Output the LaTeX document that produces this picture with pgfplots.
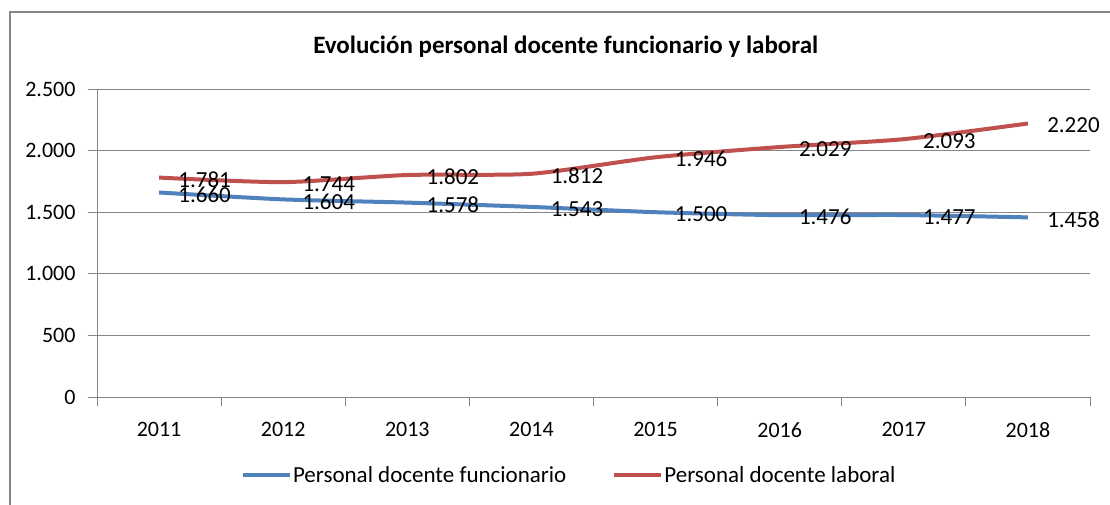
\documentclass[border=0pt]{standalone}
\usepackage{fontspec}
\setmainfont{Carlito}
\usepackage{pgfplots}
\pgfplotsset{compat=1.18}
\definecolor{serblue}{RGB}{79,129,189}
\definecolor{serred}{RGB}{192,80,77}
\definecolor{gridgray}{RGB}{134,134,134}
\pgfkeys{/pgf/number format/.cd, 1000 sep={.}, assume math mode=true}
\newcommand{\fs}{\fontsize{22}{26}\selectfont}
\newcommand{\fl}{\fontsize{23}{27}\selectfont}
\begin{document}
\begin{tikzpicture}[x=1pt,y=1pt]
\useasboundingbox (0,0) rectangle (1110,-504);
\draw[gridgray, line width=1.5pt] (10,-530) -- (10,-12) -- (1130,-12);
\begin{axis}[
  at={(97pt,-397pt)}, anchor=south west,
  scale only axis, width=993pt, height=308pt,
  xmin=-0.5, xmax=7.5, ymin=0, ymax=2500,
  xtick={0,...,7}, xticklabels={2011,2012,2013,2014,2015,2016,2017,2018},
  minor xtick={-0.5,0.5,...,7.5},
  ytick={0,500,...,2500},
  scaled y ticks=false,
  axis lines=left,
  axis line style={-, gridgray, line width=1pt},
  tick align=outside,
  major tick length=9pt, minor tick length=9pt,
  major x tick style={draw=none},
  tick style={gridgray, line width=1pt},
  ymajorgrids, grid style={gridgray, line width=1pt},
  ticklabel style={font=\fs, text=black},
  xticklabel style={yshift=-13pt},
  yticklabel style={xshift=-9pt},
  clip=false,
  title={Evolución personal docente funcionario y laboral},
  title style={at={(0.472,1)}, anchor=center, yshift=36pt, font=\bfseries\fontsize{25}{30}\selectfont},
  nodes near coords,
  every node near coord/.append style={anchor=west, xshift=14pt, yshift=-2pt, font=\fl, text=black},
  legend columns=2,
  legend style={at={(0.475,-0.253)}, anchor=center, draw=none, font=\fl,
    /tikz/every even column/.append style={column sep=44pt},
    nodes={inner xsep=1.5pt}},
  legend image code/.code={\draw[#1, line width=4pt] (0,0) -- (47pt,0);},
]
\addplot[serblue, line width=4pt, smooth, tension=0.4] coordinates {
(0,1660) (1,1604) (2,1578) (3,1543) (4,1500) (5,1476) (6,1477) (7,1458)};
\addlegendentry{Personal docente funcionario}
\addplot[serred, line width=4pt, smooth, tension=0.4] coordinates {
(0,1781) (1,1744) (2,1802) (3,1812) (4,1946) (5,2029) (6,2093) (7,2220)};
\addlegendentry{Personal docente laboral}
\end{axis}
\end{tikzpicture}
\end{document}
